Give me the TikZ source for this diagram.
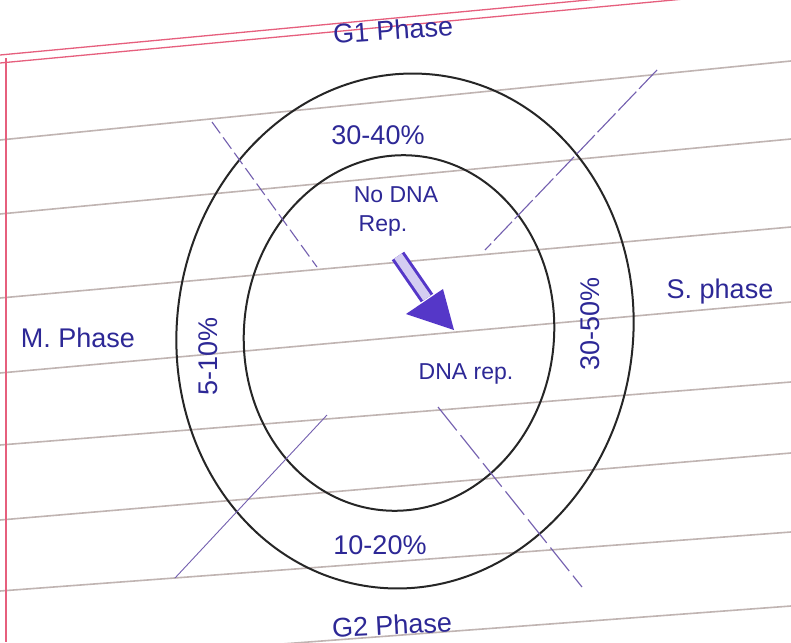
\documentclass[tikz,border=0pt]{standalone}
\usepackage{fontspec}
\setmainfont{Liberation Sans}
\definecolor{ink}{RGB}{45,40,150}
\definecolor{arrowc}{RGB}{85,55,200}
\definecolor{divc}{RGB}{115,95,175}
\definecolor{rulec}{RGB}{192,180,178}
\definecolor{redc}{RGB}{230,95,125}
\tikzset{
  rule/.style={rulec, line width=1.6pt},
  redrule/.style={redc, line width=1.3pt},
  ring/.style={black!85, line width=2pt},
  divline/.style={divc, line width=1.1pt},
  lbl/.style={ink, inner sep=0pt, font=\fontsize{27}{29}\selectfont},
  slbl/.style={ink, inner sep=0pt, font=\fontsize{23}{25}\selectfont},
}
\begin{document}
\begin{tikzpicture}[x=1pt,y=-1pt]
\useasboundingbox (0,0) rectangle (791,642);
\fill[white] (0,0) rectangle (791,642);
\begin{scope}
\clip (0,0) rectangle (791,642);
% ruled lines
\draw[rule] (0,140) -- (791,61);
\draw[rule] (0,214) -- (791,139);
\draw[rule] (0,298) -- (791,227);
\draw[rule] (0,373) -- (791,302);
\draw[rule] (0,445) -- (791,382);
\draw[rule] (0,520) -- (791,453);
\draw[rule] (0,591) -- (791,532);
\draw[rule] (0,665) -- (791,606);
% red margin lines
\draw[redrule] (0,55) -- (791,-19);
\draw[redrule] (0,63) -- (791,-11);
\draw[redrule] (6,58) -- (6,642);
\end{scope}
% rings
\draw[ring, rotate around={-8:(405,331)}] (405,331) ellipse [x radius=228, y radius=258];
\draw[ring, rotate around={-6:(399,333)}] (399,333) ellipse [x radius=155, y radius=178];
% divider lines
\coordinate (d1a) at (212,122); \coordinate (d1b) at (317,267);
\coordinate (d2a) at (657,70);  \coordinate (d2b) at (485,250);
\coordinate (d3a) at (327,415); \coordinate (d3b) at (175,578);
\coordinate (d4a) at (438,407); \coordinate (d4b) at (582,587);
\draw[divline, dash pattern=on 14pt off 5pt] (d1a) -- (d1b);
\draw[divline, dash pattern=on 26pt off 4pt] (d2a) -- (d2b);
\draw[divline, line width=0.9pt] (d3a) -- (d3b);
\draw[divline, dash pattern=on 30pt off 6pt] (d4a) -- (d4b);
% labels
\node[lbl, rotate=4] (g1) at (393,30) {G1 Phase};
\node[lbl] (p1) at (378,135) {30-40\%};
\node[slbl] (nd) at (396,195) {No DNA};
\node[slbl] (rp) at (383,226) {Rep.};
\node[slbl] (dr) at (466,374) {DNA rep.};
\node[lbl, rotate=90] (p2) at (590,324) {30-50\%};
\node[lbl] (sp) at (720,292) {S. phase};
\node[lbl] (mp) at (78,338) {M. Phase};
\node[lbl, rotate=90] (p3) at (208,356) {5-10\%};
\node[lbl] (p4) at (380,545) {10-20\%};
\node[lbl, rotate=3] (g2) at (392,625) {G2 Phase};
% arrow
\coordinate (as) at (398,256);
\coordinate (ae) at (427,298);
\draw[arrowc, line width=3pt, double=arrowc!25, double distance=9pt] (as) -- (ae);
\fill[arrowc] (406,314) -- (443,289) -- (454,330) -- cycle;
\end{tikzpicture}
\end{document}
